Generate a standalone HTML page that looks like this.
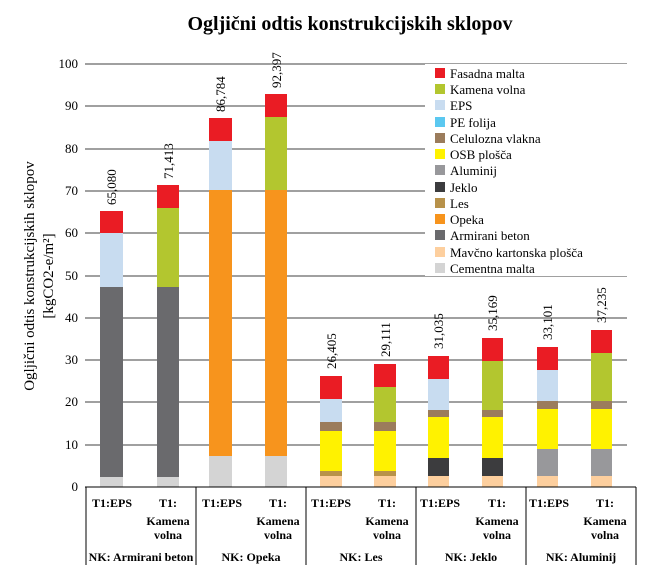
<!DOCTYPE html>
<html><head><meta charset="utf-8"><style>body{margin:0;background:#fff}svg{display:block;font-family:"Liberation Serif",serif}</style></head><body>
<svg width="656" height="583" viewBox="0 0 656 583">
<text x="350" y="30" text-anchor="middle" font-size="20" font-weight="bold">Ogljični odtis konstrukcijskih sklopov</text>
<g stroke="#000" stroke-width="0.8">
<line x1="85" y1="64" x2="627" y2="64"/><line x1="85" y1="106" x2="627" y2="106"/><line x1="85" y1="149" x2="627" y2="149"/><line x1="85" y1="191" x2="627" y2="191"/><line x1="85" y1="233" x2="627" y2="233"/><line x1="85" y1="276" x2="627" y2="276"/><line x1="85" y1="318" x2="627" y2="318"/><line x1="85" y1="360" x2="627" y2="360"/><line x1="85" y1="402" x2="627" y2="402"/><line x1="85" y1="445" x2="627" y2="445"/>
</g>
<g font-size="13" text-anchor="end"><text x="78" y="68">100</text><text x="78" y="110">90</text><text x="78" y="153">80</text><text x="78" y="195">70</text><text x="78" y="237">60</text><text x="78" y="280">50</text><text x="78" y="322">40</text><text x="78" y="364">30</text><text x="78" y="406">20</text><text x="78" y="449">10</text><text x="78" y="491">0</text></g>
<g font-size="15" text-anchor="middle"><text transform="translate(34,276) rotate(-90)">Ogljični odtis konstrukcijskih sklopov</text><text transform="translate(53,276) rotate(-90)">[kgCO2-e/m²]</text></g>
<rect x="425" y="64" width="202" height="212" fill="#fff"/>
<g>
<rect x="100" y="477" width="23" height="10" fill="#d4d4d4"/><rect x="100" y="287" width="23" height="190" fill="#6a6a6d"/><rect x="100" y="233" width="23" height="54" fill="#c8dcf0"/><rect x="100" y="211" width="23" height="22" fill="#ea1c24"/>
<rect x="157" y="477" width="22" height="10" fill="#d4d4d4"/><rect x="157" y="287" width="22" height="190" fill="#6a6a6d"/><rect x="157" y="208" width="22" height="79" fill="#b3c62f"/><rect x="157" y="185" width="22" height="23" fill="#ea1c24"/>
<rect x="209" y="456" width="23" height="31" fill="#d4d4d4"/><rect x="209" y="190" width="23" height="266" fill="#f7941d"/><rect x="209" y="141" width="23" height="49" fill="#c8dcf0"/><rect x="209" y="118" width="23" height="23" fill="#ea1c24"/>
<rect x="265" y="456" width="22" height="31" fill="#d4d4d4"/><rect x="265" y="190" width="22" height="266" fill="#f7941d"/><rect x="265" y="117" width="22" height="73" fill="#b3c62f"/><rect x="265" y="94" width="22" height="23" fill="#ea1c24"/>
<rect x="320" y="476" width="22" height="11" fill="#fdcf9e"/><rect x="320" y="471" width="22" height="5" fill="#b8924a"/><rect x="320" y="431" width="22" height="40" fill="#fff200"/><rect x="320" y="422" width="22" height="9" fill="#9b7c5c"/><rect x="320" y="399" width="22" height="23" fill="#c8dcf0"/><rect x="320" y="376" width="22" height="23" fill="#ea1c24"/>
<rect x="374" y="476" width="22" height="11" fill="#fdcf9e"/><rect x="374" y="471" width="22" height="5" fill="#b8924a"/><rect x="374" y="431" width="22" height="40" fill="#fff200"/><rect x="374" y="422" width="22" height="9" fill="#9b7c5c"/><rect x="374" y="387" width="22" height="35" fill="#b3c62f"/><rect x="374" y="364" width="22" height="23" fill="#ea1c24"/>
<rect x="428" y="476" width="21" height="11" fill="#fdcf9e"/><rect x="428" y="458" width="21" height="18" fill="#3c3c3e"/><rect x="428" y="417" width="21" height="41" fill="#fff200"/><rect x="428" y="410" width="21" height="7" fill="#9b7c5c"/><rect x="428" y="379" width="21" height="31" fill="#c8dcf0"/><rect x="428" y="356" width="21" height="23" fill="#ea1c24"/>
<rect x="482" y="476" width="21" height="11" fill="#fdcf9e"/><rect x="482" y="458" width="21" height="18" fill="#3c3c3e"/><rect x="482" y="417" width="21" height="41" fill="#fff200"/><rect x="482" y="410" width="21" height="7" fill="#9b7c5c"/><rect x="482" y="361" width="21" height="49" fill="#b3c62f"/><rect x="482" y="338" width="21" height="23" fill="#ea1c24"/>
<rect x="537" y="476" width="21" height="11" fill="#fdcf9e"/><rect x="537" y="449" width="21" height="27" fill="#98989b"/><rect x="537" y="409" width="21" height="40" fill="#fff200"/><rect x="537" y="401" width="21" height="8" fill="#9b7c5c"/><rect x="537" y="370" width="21" height="31" fill="#c8dcf0"/><rect x="537" y="347" width="21" height="23" fill="#ea1c24"/>
<rect x="591" y="476" width="21" height="11" fill="#fdcf9e"/><rect x="591" y="449" width="21" height="27" fill="#98989b"/><rect x="591" y="409" width="21" height="40" fill="#fff200"/><rect x="591" y="401" width="21" height="8" fill="#9b7c5c"/><rect x="591" y="353" width="21" height="48" fill="#b3c62f"/><rect x="591" y="330" width="21" height="23" fill="#ea1c24"/>
</g>
<g font-size="13">
<text transform="translate(116,205) rotate(-90)">65,080</text>
<text transform="translate(173,179) rotate(-90)">71,413</text>
<text transform="translate(225,112) rotate(-90)">86,784</text>
<text transform="translate(281,88) rotate(-90)">92,397</text>
<text transform="translate(336,369) rotate(-90)">26,405</text>
<text transform="translate(390,357) rotate(-90)">29,111</text>
<text transform="translate(443,349) rotate(-90)">31,035</text>
<text transform="translate(497,331) rotate(-90)">35,169</text>
<text transform="translate(552,340) rotate(-90)">33,101</text>
<text transform="translate(606,323) rotate(-90)">37,235</text>
</g>
<g font-size="13">
<rect x="435" y="68" width="10" height="10" fill="#ea1c24"/><text x="450" y="78">Fasadna malta</text>
<rect x="435" y="84" width="10" height="10" fill="#b3c62f"/><text x="450" y="94">Kamena volna</text>
<rect x="435" y="100" width="10" height="10" fill="#c8dcf0"/><text x="450" y="110">EPS</text>
<rect x="435" y="117" width="10" height="10" fill="#5bc8f0"/><text x="450" y="127">PE folija</text>
<rect x="435" y="133" width="10" height="10" fill="#9b7c5c"/><text x="450" y="143">Celulozna vlakna</text>
<rect x="435" y="149" width="10" height="10" fill="#fff200"/><text x="450" y="159">OSB plošča</text>
<rect x="435" y="165" width="10" height="10" fill="#98989b"/><text x="450" y="175">Aluminij</text>
<rect x="435" y="182" width="10" height="10" fill="#3c3c3e"/><text x="450" y="192">Jeklo</text>
<rect x="435" y="198" width="10" height="10" fill="#b8924a"/><text x="450" y="208">Les</text>
<rect x="435" y="214" width="10" height="10" fill="#f7941d"/><text x="450" y="224">Opeka</text>
<rect x="435" y="230" width="10" height="10" fill="#6a6a6d"/><text x="450" y="240">Armirani beton</text>
<rect x="435" y="247" width="10" height="10" fill="#fdcf9e"/><text x="450" y="257">Mavčno kartonska plošča</text>
<rect x="435" y="263" width="10" height="10" fill="#d4d4d4"/><text x="450" y="273">Cementna malta</text>
</g>
<g stroke="#000" stroke-width="1">
<line x1="85" y1="487" x2="636" y2="487"/>
<line x1="86" y1="487" x2="86" y2="565"/><line x1="196" y1="487" x2="196" y2="565"/><line x1="306" y1="487" x2="306" y2="565"/><line x1="416" y1="487" x2="416" y2="565"/><line x1="526" y1="487" x2="526" y2="565"/><line x1="636" y1="487" x2="636" y2="565"/>
</g>
<g font-size="12" font-weight="bold" text-anchor="middle">
<text x="112" y="507">T1:EPS</text><text x="168" y="507">T1:</text><text x="168" y="525">Kamena</text><text x="168" y="539">volna</text>
<text x="222" y="507">T1:EPS</text><text x="278" y="507">T1:</text><text x="278" y="525">Kamena</text><text x="278" y="539">volna</text>
<text x="331" y="507">T1:EPS</text><text x="387" y="507">T1:</text><text x="387" y="525">Kamena</text><text x="387" y="539">volna</text>
<text x="440" y="507">T1:EPS</text><text x="497" y="507">T1:</text><text x="497" y="525">Kamena</text><text x="497" y="539">volna</text>
<text x="549" y="507">T1:EPS</text><text x="605" y="507">T1:</text><text x="605" y="525">Kamena</text><text x="605" y="539">volna</text>
<text x="141" y="561">NK: Armirani beton</text><text x="251" y="561">NK: Opeka</text><text x="361" y="561">NK: Les</text><text x="471" y="561">NK: Jeklo</text><text x="581" y="561">NK: Aluminij</text>
</g>
</svg>
</body></html>
